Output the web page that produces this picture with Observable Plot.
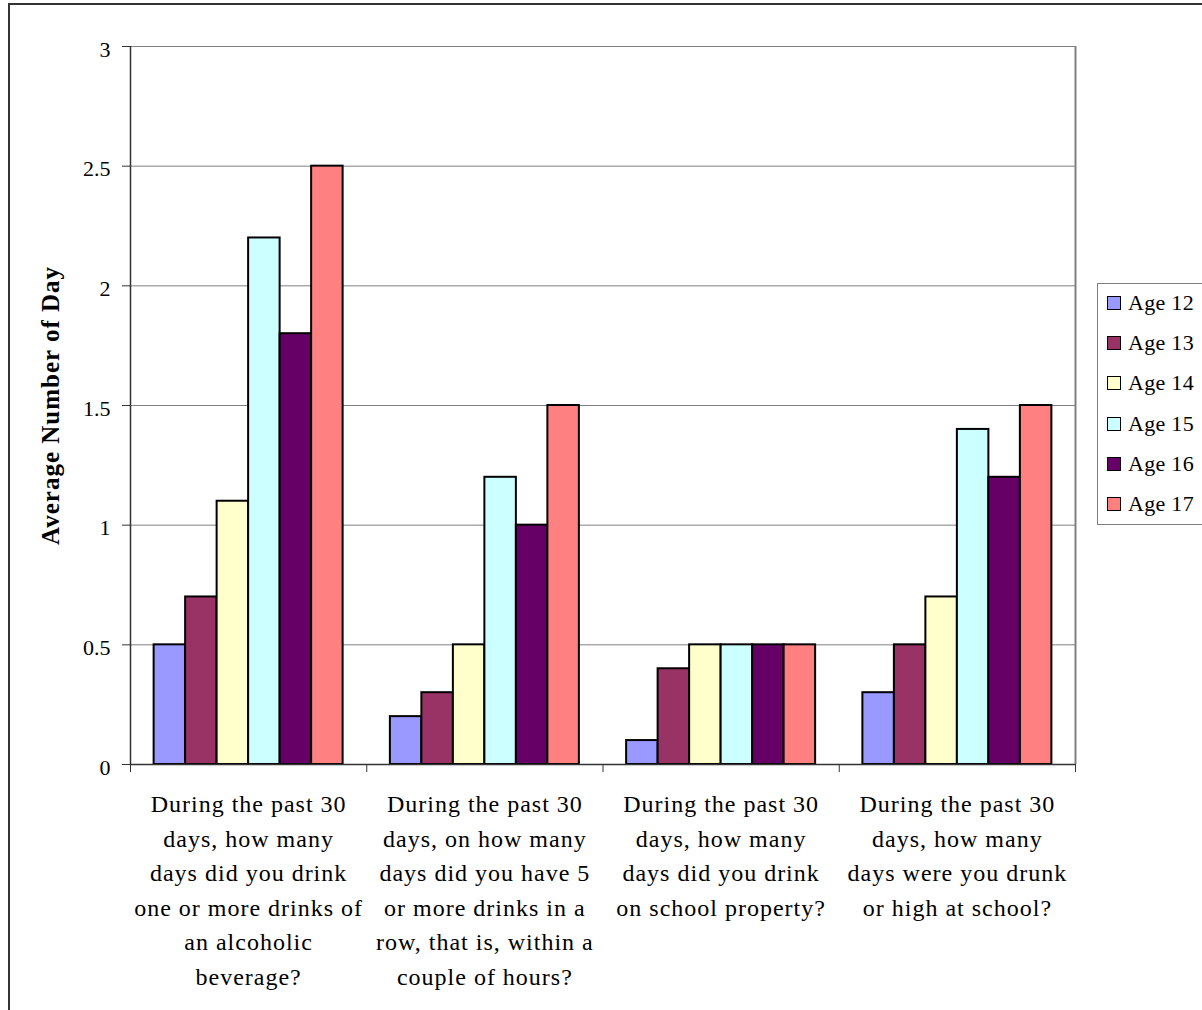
<!DOCTYPE html>
<html>
<head>
<meta charset="utf-8">
<script src="https://cdn.jsdelivr.net/npm/d3@7"></script>
<script src="https://cdn.jsdelivr.net/npm/@observablehq/plot@0.6"></script>
<style>
  html, body { margin: 0; padding: 0; background: #fff; overflow: hidden; }
  #wrap { position: relative; width: 1202px; height: 1010px; overflow: hidden; }
  #frame { position: absolute; left: 8px; top: 3px; width: 1300px; height: 1100px; border: 2px solid #333; box-sizing: border-box; }
  #chart { position: absolute; left: 0; top: 0; }
  #legend { position: absolute; left: 1097px; top: 283px; width: 120px; height: 242px; border: 1px solid #808080; box-sizing: border-box; background: #fff;
    font-family: "Liberation Serif", "Times New Roman", serif; font-size: 22px; letter-spacing: 0.3px; color: #000; }
  .item { position: absolute; left: 9px; display: flex; align-items: center; height: 24px; }
  .sw { width: 12px; height: 12px; border: 1.5px solid #000; margin-right: 7px; }
</style>
</head>
<body>
<div id="wrap">
  <div id="frame"></div>
  <div id="chart"></div>
  <div id="legend"></div>
</div>
<script>
const categories = [
  "During the past 30\ndays, how many\ndays did you drink\none or more drinks of\nan alcoholic\nbeverage?",
  "During the past 30\ndays, on how many\ndays did you have 5\nor more drinks in a\nrow, that is, within a\ncouple of hours?",
  "During the past 30\ndays, how many\ndays did you drink\non school property?",
  "During the past 30\ndays, how many\ndays were you drunk\nor high at school?"
];
const ages = ["Age 12", "Age 13", "Age 14", "Age 15", "Age 16", "Age 17"];
const colors = ["#9999FF", "#993366", "#FFFFCC", "#CCFFFF", "#660066", "#FF8080"];
const values = [
  [0.5, 0.7, 1.1, 2.2, 1.8, 2.5],
  [0.2, 0.3, 0.5, 1.2, 1.0, 1.5],
  [0.1, 0.4, 0.5, 0.5, 0.5, 0.5],
  [0.3, 0.5, 0.7, 1.4, 1.2, 1.5]
];
const yTicks = [0, 0.5, 1, 1.5, 2, 2.5, 3];
const yTitle = "Average Number of Day";

// Category slot = 6 bars + gap of 1.5 bar widths
const slot = ages.length + 1.5;
const data = [];
values.forEach((row, ci) => row.forEach((v, ai) => {
  const x1 = ci * slot + 0.75 + ai;
  data.push({category: ci, age: ages[ai], value: v, x1, x2: x1 + 1});
}));
const boundaries = d3.range(categories.length + 1).map(i => i * slot);
const labels = categories.map((c, i) => ({text: c, x: i * slot + slot / 2}));

const font = "'Liberation Serif', 'Times New Roman', serif";

const plot = Plot.plot({
  width: 1202,
  height: 1010,
  marginLeft: 130,
  marginRight: 127,
  marginTop: 46,
  marginBottom: 246,
  style: {fontFamily: font, background: "transparent"},
  x: {domain: [0, categories.length * slot], axis: null},
  y: {domain: [0, 3], axis: null},
  color: {domain: ages, range: colors},
  marks: [
    Plot.ruleY(yTicks.filter(d => d > 0), {stroke: "#808080", strokeWidth: 1}),
    Plot.ruleX([categories.length * slot], {stroke: "#808080", strokeWidth: 2}),
    Plot.rectY(data, {x1: "x1", x2: "x2", y: "value", fill: "age", stroke: "#000", strokeWidth: 2}),
    Plot.ruleX([0], {stroke: "#333", strokeWidth: 1.5}),
    Plot.ruleY([0], {stroke: "#333", strokeWidth: 1.5}),
    Plot.axisY({ticks: yTicks, tickSize: 8, label: null, text: null, stroke: "#333"}),
    Plot.axisY({ticks: yTicks, tickSize: 0, tickPadding: 20, fontSize: 22, label: null, tickFormat: d => String(d), dy: 3, fill: "#000"}),
    Plot.axisX({ticks: boundaries, tickSize: 8, label: null, text: null, stroke: "#333"}),
    Plot.text(labels, {x: "x", y: () => 0, text: "text", lineAnchor: "top", dy: 23, lineHeight: 1.44, fontSize: 24, fill: "#000"}),
    Plot.text([yTitle], {frameAnchor: "left", textAnchor: "middle", dx: -80, rotate: -90, fontSize: 25, fontWeight: "bold", fill: "#000"})
  ]
});
document.getElementById("chart").appendChild(plot);
// letter spacing for category labels and axis title (mimics the wider reference glyph spacing)
plot.querySelectorAll("g[aria-label='text'] text").forEach(t => t.setAttribute("letter-spacing", "1"));

const legend = document.getElementById("legend");
ages.forEach((a, i) => {
  const it = document.createElement("div");
  it.className = "item";
  it.style.top = (7 + i * 40.2) + "px";
  it.innerHTML = `<div class="sw" style="background:${colors[i]}"></div><span>${a}</span>`;
  legend.appendChild(it);
});
</script>
</body>
</html>
